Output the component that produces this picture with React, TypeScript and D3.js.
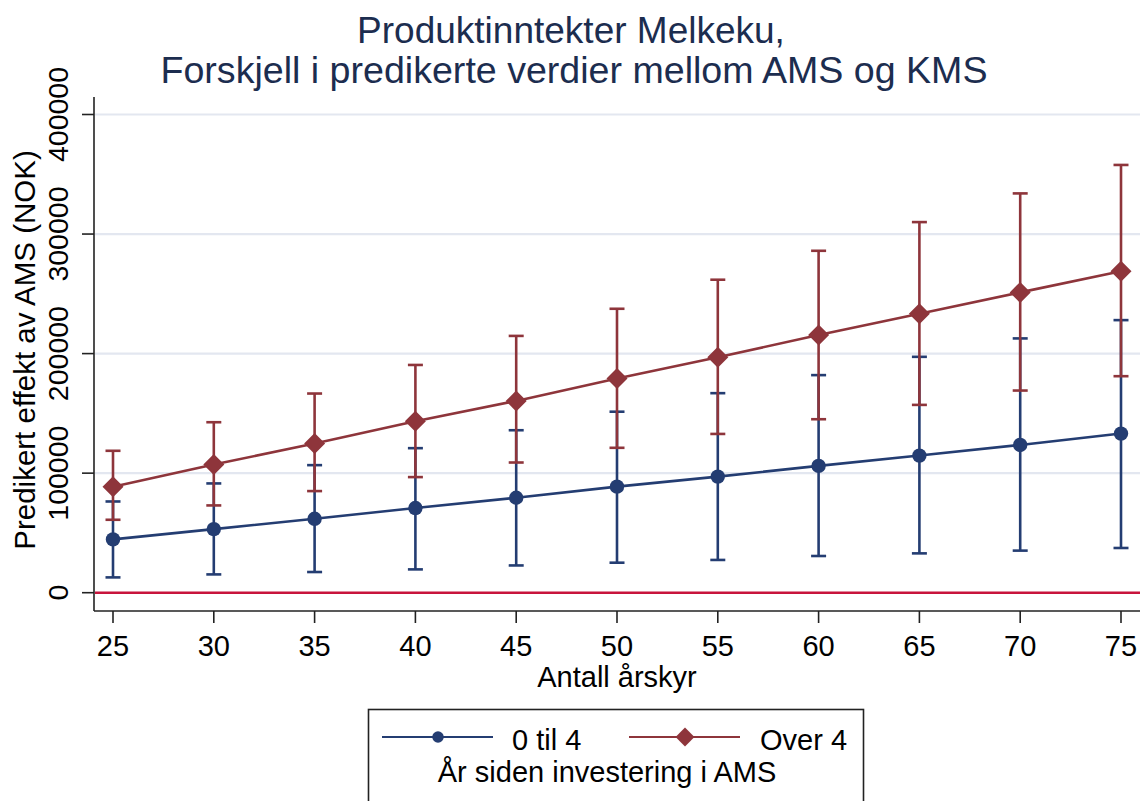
import * as d3 from "d3";

// Antall årskyr
const cows = [25, 30, 35, 40, 45, 50, 55, 60, 65, 70, 75];

// 0 til 4 år siden investering
const early = [44600, 53200, 61800, 70800, 79400, 88700, 97100, 106100, 114700, 123600, 133100];
const earlyLo = [12800, 15300, 17300, 19500, 22800, 25100, 27400, 30700, 32900, 35200, 37400];
const earlyHi = [76300, 91400, 106700, 120900, 135900, 151400, 166900, 182000, 197300, 212700, 228000];

// Over 4 år siden investering
const late = [88600, 107200, 124800, 143500, 160400, 179200, 197000, 215500, 233300, 251200, 268800];
const lateLo = [61000, 73000, 85000, 96700, 108900, 121200, 132800, 145100, 157100, 169100, 181100];
const lateHi = [118700, 142600, 166600, 190500, 214800, 237500, 261800, 286000, 310000, 334000, 357800];

const yTicks = [0, 100000, 200000, 300000, 400000];
const xTicks = [25, 30, 35, 40, 45, 50, 55, 60, 65, 70, 75];

const W = 1140;
const H = 801;
const font = "'Liberation Sans', Arial, sans-serif";
const BLUE = "#243d72";
const RED = "#8e353b";

export default function App() {
    const left = 94;
    const right = 1140;
    const top = 97;
    const bottom = 611;

    const x = d3.scaleLinear().domain([25, 75]).range([113, 1121]);
    const y = d3.scaleLinear().domain([0, 400000]).range([592.7, 114.5]);

    const line = d3
        .line<number>()
        .x((_d, i) => x(cows[i]))
        .y(d => y(d));

    const series = [
        { name: "0 til 4", mid: early, lo: earlyLo, hi: earlyHi, color: BLUE, marker: "circle" },
        { name: "Over 4", mid: late, lo: lateLo, hi: lateHi, color: RED, marker: "diamond" },
    ];

    const marker = (kind: string, cx: number, cy: number, color: string, key: string, s = 1) =>
        kind === "circle" ? (
            <circle key={key} cx={cx} cy={cy} r={7.2 * s} fill={color} />
        ) : (
            <path
                key={key}
                d={`M${cx},${cy - 10.5 * s} L${cx + 10.5 * s},${cy} L${cx},${cy + 10.5 * s} L${cx - 10.5 * s},${cy} Z`}
                fill={color}
            />
        );

    return (
        <svg
            width={W}
            height={H}
            style={{ position: "absolute", left: 0, top: 0, background: "#fff" }}
            fontFamily={font}
        >
            <rect width={W} height={H} fill="#fff" />

            {/* title */}
            <text x={571} y={43} textAnchor="middle" fontSize={37} fill="#1c2d4f">
                Produktinntekter Melkeku,
            </text>
            <text x={574} y={83} textAnchor="middle" fontSize={37.6} fill="#1c2d4f">
                Forskjell i predikerte verdier mellom AMS og KMS
            </text>

            {/* grid */}
            {yTicks.slice(1).map(t => (
                <line key={t} x1={left + 1} x2={right} y1={y(t)} y2={y(t)} stroke="#e3e7f0" strokeWidth={2.2} />
            ))}
            <line x1={left + 1} x2={right} y1={y(0)} y2={y(0)} stroke="#c8143c" strokeWidth={2.4} />

            {/* y axis */}
            <line x1={left} x2={left} y1={top} y2={bottom} stroke="#222" strokeWidth={1.6} />
            {yTicks.map(t => (
                <g key={t}>
                    <line x1={left - 12} x2={left} y1={y(t)} y2={y(t)} stroke="#222" strokeWidth={1.6} />
                    <text
                        transform={`translate(68,${y(t)}) rotate(-90)`}
                        textAnchor="middle"
                        fontSize={28.5}
                        fill="#000"
                    >
                        {t}
                    </text>
                </g>
            ))}
            <text transform={`translate(35,350) rotate(-90)`} textAnchor="middle" fontSize={29.5} fill="#000">
                Predikert effekt av AMS (NOK)
            </text>

            {/* x axis */}
            <line x1={left} x2={right} y1={bottom} y2={bottom} stroke="#222" strokeWidth={1.6} />
            {xTicks.map(t => (
                <g key={t}>
                    <line x1={x(t)} x2={x(t)} y1={bottom} y2={bottom + 12} stroke="#222" strokeWidth={1.6} />
                    <text x={x(t)} y={656} textAnchor="middle" fontSize={29} fill="#000">
                        {t}
                    </text>
                </g>
            ))}
            <text x={617} y={687} textAnchor="middle" fontSize={29} fill="#000">
                Antall årskyr
            </text>

            {/* confidence intervals */}
            {series.map(s =>
                cows.map((c, i) => (
                    <g key={s.name + c} stroke={s.color} strokeWidth={2.6}>
                        <line x1={x(c)} x2={x(c)} y1={y(s.lo[i])} y2={y(s.hi[i])} />
                        <line x1={x(c) - 7.5} x2={x(c) + 7.5} y1={y(s.lo[i])} y2={y(s.lo[i])} />
                        <line x1={x(c) - 7.5} x2={x(c) + 7.5} y1={y(s.hi[i])} y2={y(s.hi[i])} />
                    </g>
                ))
            )}

            {/* lines and markers */}
            {series.map(s => (
                <g key={s.name}>
                    <path d={line(s.mid) ?? ""} fill="none" stroke={s.color} strokeWidth={2.6} />
                    {s.mid.map((v, i) => marker(s.marker, x(cows[i]), y(v), s.color, s.name + i))}
                </g>
            ))}

            {/* legend */}
            <rect x={368.5} y={709.5} width={495} height={120} fill="#fff" stroke="#222" strokeWidth={1.6} />
            <line x1={382} x2={493} y1={737} y2={737} stroke={BLUE} strokeWidth={2.2} />
            {marker("circle", 438, 737, BLUE, "lg1", 0.8)}
            <text x={512} y={750} fontSize={29} fill="#000">
                0 til 4
            </text>
            <line x1={629} x2={740} y1={737} y2={737} stroke={RED} strokeWidth={2.2} />
            {marker("diamond", 685, 737, RED, "lg2", 0.9)}
            <text x={760} y={750} fontSize={29} fill="#000">
                Over 4
            </text>
            <text x={607} y={782} textAnchor="middle" fontSize={29} fill="#000">
                År siden investering i AMS
            </text>
        </svg>
    );
}
